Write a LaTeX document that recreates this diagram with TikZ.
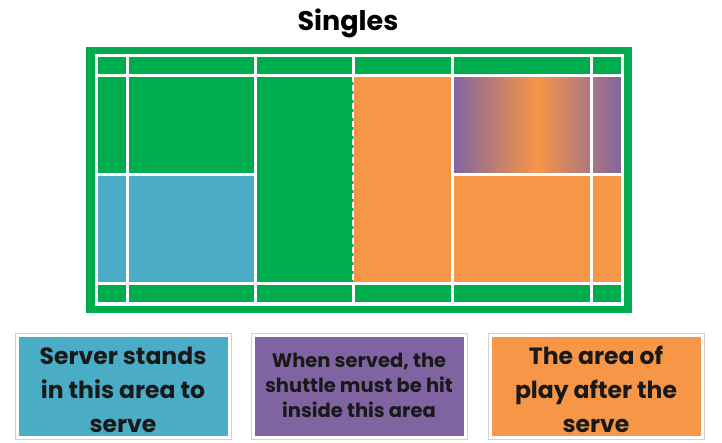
\documentclass[tikz,border=0pt]{standalone}
\usepackage{fontspec}
\setmainfont{Poppins}
\definecolor{courtgreen}{HTML}{00AC4E}
\definecolor{servecell}{HTML}{4BACC6}
\definecolor{hitcell}{HTML}{8064A2}
\definecolor{playcell}{HTML}{F79646}
\tikzset{
  courtline/.style={draw=white, line width=3pt},
  netline/.style={draw=white, line width=2pt, dash pattern=on 6pt off 3pt},
  notebox/.style={fill=#1, draw=white, line width=3pt,
                  preaction={draw=black!18, line width=5pt},
                  minimum width=212pt, minimum height=102pt, inner sep=0pt,
                  align=center, text=black!90, text height=92pt, text depth=0pt,
                  font=\bfseries\fontsize{23.5}{34}\selectfont},
}

\begin{document}
\begin{tikzpicture}[x=1pt, y=-1pt]
    \useasboundingbox (0,0) rectangle (722,443);
    \node[anchor=base, font=\bfseries\fontsize{27}{30}\selectfont] (title) at (348,31) {Singles};
    % court
    \fill[courtgreen] (86,47) rectangle (632,313);
    \fill[servecell] (96,175) rectangle (255,284);
    \fill[playcell] (353,76) rectangle (622,284);
    \shade[left color=hitcell, right color=playcell] (452,76) rectangle (537.5,175);
    \shade[left color=playcell, right color=hitcell] (537,76) rectangle (622,175);
    \draw[courtline] (96,56) rectangle (622,304);
    \draw[courtline] (96,76) -- (622,76);
    \draw[courtline] (96,284) -- (622,284);
    \draw[courtline] (96,175) -- (255,175);
    \draw[courtline] (452,175) -- (622,175);
    \foreach \xline in {127, 255, 452, 591}
      \draw[courtline] (\xline,56) -- (\xline,304);
    \draw[courtline] (353,56) -- (353,76);
    \draw[courtline] (353,284) -- (353,304);
    \draw[netline] (353,76) -- (353,284);
    % notes
    \node[notebox=servecell] (serve) at (123,386) {Server stands\\in this area to\\serve};
    \node[notebox=hitcell, text height=62pt, font=\bfseries\fontsize{19.5}{25}\selectfont] (hit) at (359,386) {When served, the\\shuttle must be hit\\inside this area};
    \node[notebox=playcell] (play) at (596,386) {The area of\\play after the\\serve};
  \end{tikzpicture}
\end{document}
